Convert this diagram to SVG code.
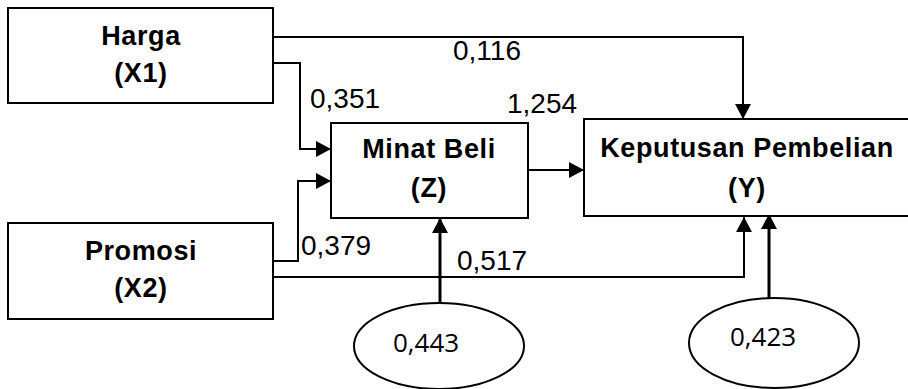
<svg xmlns="http://www.w3.org/2000/svg" width="908" height="389" viewBox="0 0 908 389">
<style>
.box{fill:#fff;stroke:#000;stroke-width:2}
.ell{fill:#fff;stroke:#000;stroke-width:2}
.lbl{font-family:"Liberation Sans",Arial,sans-serif;font-weight:bold;font-size:27px;fill:#000;text-anchor:middle;letter-spacing:0.6px}
.num{font-family:"Liberation Sans",Arial,sans-serif;font-size:28px;fill:#000}
.enum{font-family:"Open Sans","Noto Sans",sans-serif;font-size:26px;fill:#000}
.ln{fill:none;stroke:#000;stroke-width:2}
.lnb{fill:none;stroke:#000;stroke-width:3}
</style>
<defs>
<marker id="ah" viewBox="0 0 15 16" refX="15" refY="8" markerWidth="15" markerHeight="16" markerUnits="userSpaceOnUse" orient="auto">
<path d="M0,0 L15,8 L0,16 Z" fill="#000"/>
</marker>
</defs>
<rect width="908" height="389" fill="#fff"/>
<g id="connectors">
<polyline class="ln" points="273,37 743,37 743,119" marker-end="url(#ah)"/>
<polyline class="ln" points="273,63 300,63 300,149 331,149" marker-end="url(#ah)"/>
<polyline class="ln" points="273,261 298,261 298,181 331,181" marker-end="url(#ah)"/>
<polyline class="ln" points="273,277 744,277 744,217" marker-end="url(#ah)"/>
<line class="ln" x1="529" y1="170" x2="584" y2="170" marker-end="url(#ah)"/>
<line class="lnb" x1="440" y1="303" x2="440" y2="218" marker-end="url(#ah)"/>
<line class="lnb" x1="769" y1="298" x2="769" y2="214" marker-end="url(#ah)"/>
<text class="num" x="453" y="60">0,116</text>
<text class="num" x="310" y="108">0,351</text>
<text class="num" x="507" y="113">1,254</text>
<text class="num" x="301" y="255">0,379</text>
<text class="num" x="457" y="270">0,517</text>
</g>
<g id="harga">
<rect class="box" x="8" y="8" width="265" height="95"/>
<text class="lbl" x="141" y="45">Harga</text>
<text class="lbl" x="141" y="82">(X1)</text>
</g>
<g id="promosi">
<rect class="box" x="8" y="223" width="265" height="96"/>
<text class="lbl" x="141" y="260">Promosi</text>
<text class="lbl" x="141" y="297">(X2)</text>
</g>
<g id="minat">
<rect class="box" x="331" y="123" width="197" height="95"/>
<text class="lbl" x="429" y="158">Minat Beli</text>
<text class="lbl" x="429" y="197">(Z)</text>
</g>
<g id="keputusan">
<rect class="box" x="584" y="119" width="340" height="97"/>
<text class="lbl" x="747" y="157">Keputusan Pembelian</text>
<text class="lbl" x="747" y="197">(Y)</text>
</g>
<g id="e1">
<ellipse class="ell" cx="439" cy="346" rx="85" ry="43"/>
<text class="enum" x="393" y="352">0,443</text>
</g>
<g id="e2">
<ellipse class="ell" cx="774" cy="343" rx="85" ry="45"/>
<text class="enum" x="730" y="346">0,423</text>
</g>
</svg>
